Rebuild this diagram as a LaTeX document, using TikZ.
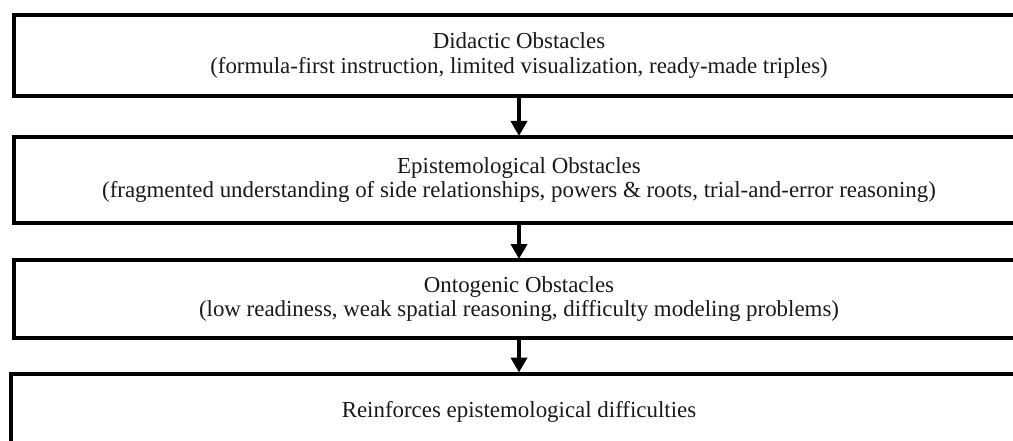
\documentclass[tikz,border=0pt]{standalone}
\usepackage{fontspec}
\setmainfont{Liberation Serif}
\usetikzlibrary{arrows.meta}
\begin{document}
\begin{tikzpicture}[x=1pt,y=-1pt,
  stagebox/.style={draw=black, line width=4pt, fill=white, inner sep=0pt,
    align=center, font=\fontsize{22.9}{24.5}\selectfont, text=black!90},
  flowarrow/.style={line width=4pt, -{Triangle[length=15pt,width=16pt]}, shorten >=-1pt}]
\useasboundingbox (0,0) rectangle (1013,441);
\clip (0,0) rectangle (1013,441);
\node[stagebox, minimum width=1010pt, minimum height=81pt] (did) at (519,55.5)
  {Didactic Obstacles\\(formula-first instruction, limited visualization, ready-made triples)};
\node[stagebox, minimum width=1010pt, minimum height=86pt] (epi) at (519,180)
  {Epistemological Obstacles\\(fragmented understanding of side relationships, powers \& roots, trial-and-error reasoning)};
\node[stagebox, minimum width=1010pt, minimum height=78pt] (ont) at (519,299)
  {Ontogenic Obstacles\\(low readiness, weak spatial reasoning, difficulty modeling problems)};
\node[stagebox, minimum width=1016pt, minimum height=77pt] (rei) at (519,412)
  {Reinforces epistemological difficulties};
\draw[flowarrow] (did.south) -- (epi.north);
\draw[flowarrow] (epi.south) -- (ont.north);
\draw[flowarrow] (ont.south) -- (rei.north);
\end{tikzpicture}
\end{document}
